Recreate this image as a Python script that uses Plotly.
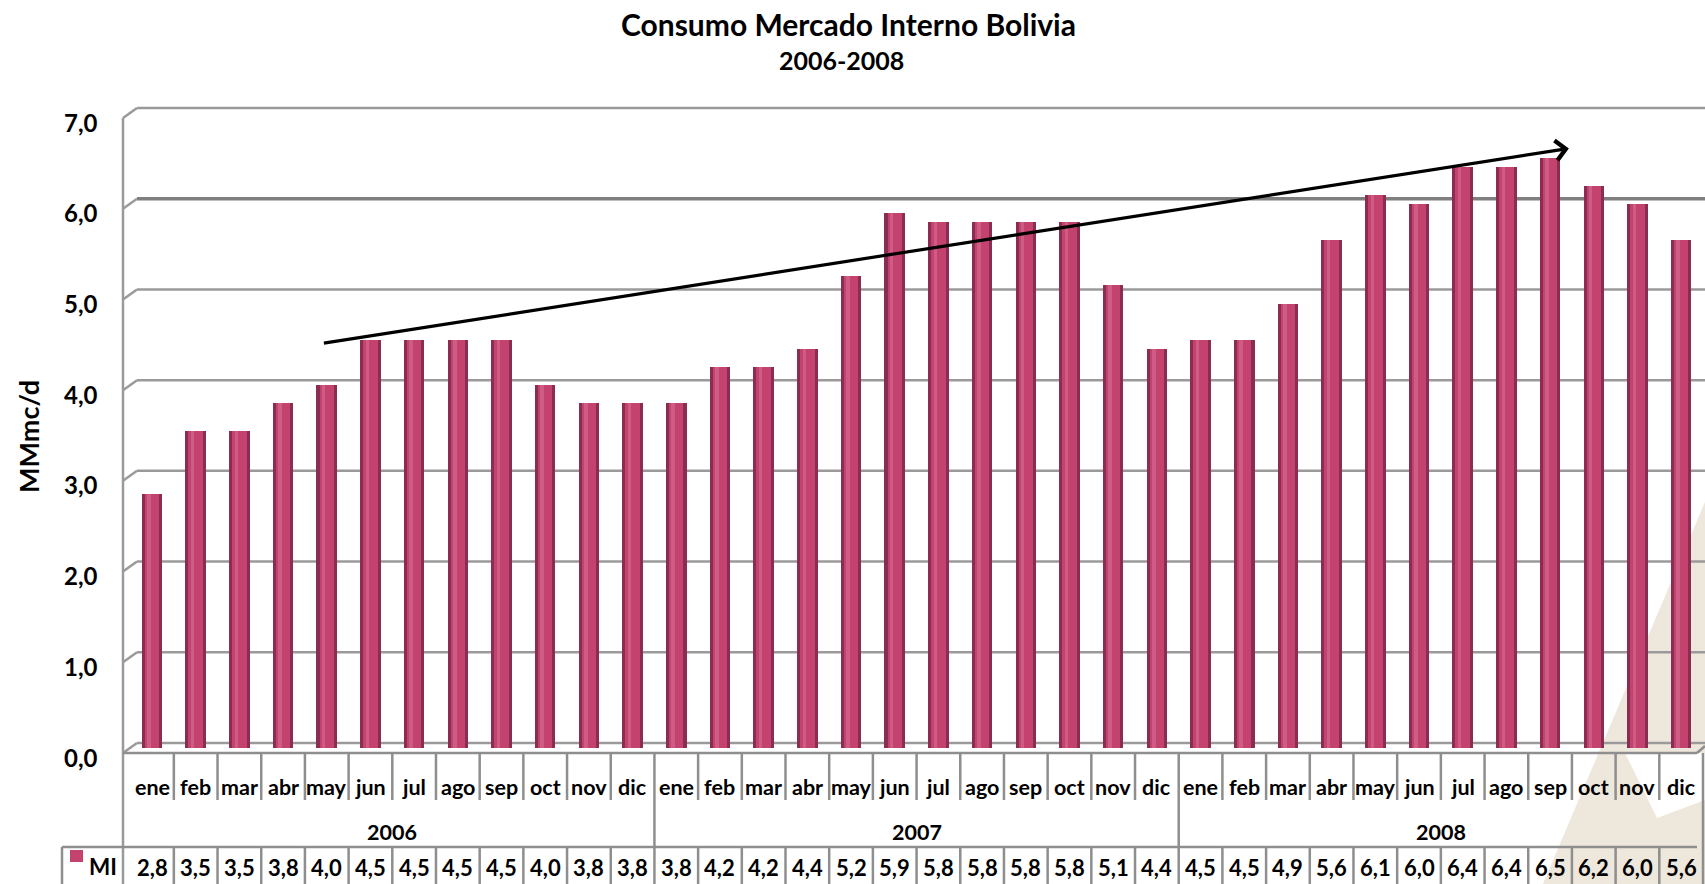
import plotly.graph_objects as go

# ---------------- data ----------------
years = ["2006", "2007", "2008"]
months = ["ene", "feb", "mar", "abr", "may", "jun", "jul", "ago", "sep", "oct", "nov", "dic"]
mi_2006 = [2.8, 3.5, 3.5, 3.8, 4.0, 4.5, 4.5, 4.5, 4.5, 4.0, 3.8, 3.8]
mi_2007 = [3.8, 4.2, 4.2, 4.4, 5.2, 5.9, 5.8, 5.8, 5.8, 5.8, 5.1, 4.4]
mi_2008 = [4.5, 4.5, 4.9, 5.6, 6.1, 6.0, 6.4, 6.4, 6.5, 6.2, 6.0, 5.6]
series_name = "MI"
y_ticks = [0, 1, 2, 3, 4, 5, 6, 7]
y_tick_labels = ["0,0", "1,0", "2,0", "3,0", "4,0", "5,0", "6,0", "7,0"]
title_text = "Consumo Mercado Interno Bolivia"
subtitle_text = "2006-2008"
y_title = "MMmc/d"
# trend arrow (category index, value)
trend_start = (3.9, 4.46)
trend_end = (32.43, 6.61)

cats = [f"{m} {y}" for y in years for m in months]
values = mi_2006 + mi_2007 + mi_2008
labels = [f"{v:.1f}".replace(".", ",") for v in values]

# ---------------- layout geometry ----------------
W, H = 1705, 884
PL, PR, PT, PB = 137, 1705, 113, 748      # plotting area (bars)
BACK_DY = 5                                 # back wall offset (3-D look)
cell = 43.69
r0 = (PL - 152) / cell
r1 = r0 + (PR - PL) / cell
unit = (PB - PT) / 7.0


def px(x):
    return (x - PL) / (PR - PL)


def py(y):
    return (PB - y) / (PB - PT)


def idx_pix(i):
    return PL + (i - r0) * cell


FONT = "Lato"
GRID = "#9a9a9a"
LINE = "#8e8e8e"
BAR_MAIN = "#C3426E"
BAR_EDGE = "#8B2D53"
BAR_HI = "#CF5C85"

fig = go.Figure()
fig.add_trace(go.Bar(x=cats, y=values, width=0.47, marker=dict(color=BAR_EDGE, line_width=0),
                     name=series_name, showlegend=False, hoverinfo="skip"))
fig.add_trace(go.Bar(x=cats, y=values, width=0.33, marker=dict(color=BAR_MAIN, line_width=0),
                     name=series_name, showlegend=False))
fig.add_trace(go.Bar(x=cats, y=values, width=0.08, offset=-0.11, marker=dict(color=BAR_HI, line_width=0),
                     name=series_name, showlegend=False, hoverinfo="skip"))

shapes = []
# watermark
wm = [(1543, 884), (1705, 502), (1705, 884)]
path = "M " + " L ".join(f"{px(a):.5f},{py(b):.5f}" for a, b in wm) + " Z"
shapes.append(dict(type="path", xref="paper", yref="paper", path=path,
                   fillcolor="#EEE7DC", line_width=0, layer="below"))
wm2 = [(1657, 818), (1705, 800), (1705, 753), (1625, 753)]
path2 = "M " + " L ".join(f"{px(a):.5f},{py(b):.5f}" for a, b in wm2) + " Z"
shapes.append(dict(type="path", xref="paper", yref="paper", path=path2,
                   fillcolor="white", line_width=0, layer="below"))

# gridlines (back wall) + left wall diagonals
for v in y_ticks:
    col = "#7f7f7f" if v == 6 else GRID
    wdt = 3.5 if v == 6 else 2.5
    gy = PB - BACK_DY - v * unit
    shapes.append(dict(type="line", xref="paper", yref="paper", x0=0, x1=1, y0=py(gy), y1=py(gy),
                       line=dict(color=col, width=wdt), layer="below"))
    shapes.append(dict(type="line", xref="paper", yref="paper", x0=px(123), x1=px(137),
                       y0=py(gy + 10), y1=py(gy), line=dict(color=GRID, width=2.5)))


def pline(x0, y0, x1, y1, color=LINE, w=2.5):
    shapes.append(dict(type="line", xref="paper", yref="paper", x0=px(x0), y0=py(y0),
                       x1=px(x1), y1=py(y1), line=dict(color=color, width=w)))


# left axis line
pline(123, 118, 123, 884, GRID)
# floor front edge and right diagonal
pline(123, 753, 1697, 753)
pline(1697, 753, 1705, 746)
# data row top line
pline(62, 847, 1697, 847)
pline(62, 847, 62, 884)
# legend square
shapes.append(dict(type="rect", xref="paper", yref="paper", x0=px(70), x1=px(83),
                   y0=py(862), y1=py(850), fillcolor=BAR_MAIN, line_width=0))
# cell separators
n = len(cats)
for k in range(1, n + 1):
    xb = idx_pix(k - 0.5)
    if k % 12 == 0:
        pline(xb, 753, xb, 884)
    else:
        pline(xb, 753, xb, 800)
        pline(xb, 847, xb, 884)

ann = []
bold = dict(family=FONT, color="black", weight="bold")
ann.append(dict(text=title_text, xref="paper", yref="paper", x=px(848), y=py(24),
                showarrow=False, font=dict(size=30, **bold), xanchor="center", yanchor="middle"))
ann.append(dict(text=subtitle_text, xref="paper", yref="paper", x=px(841), y=py(60),
                showarrow=False, font=dict(size=25, **bold), xanchor="center", yanchor="middle"))
ann.append(dict(text=y_title, xref="paper", yref="paper", x=px(29), y=py(437), textangle=-90,
                showarrow=False, font=dict(size=27, **bold), xanchor="center", yanchor="middle"))
for v, lab in zip(y_ticks, y_tick_labels):
    ann.append(dict(text=lab, xref="paper", yref="y", x=px(100), y=v, yshift=-9,
                    showarrow=False, font=dict(size=24, **bold), xanchor="right", yanchor="middle"))
for i, c in enumerate(cats):
    ann.append(dict(text=months[i % 12], xref="x", yref="paper", x=c, y=py(787),
                    showarrow=False, font=dict(size=21.5, **bold), xanchor="center", yanchor="middle"))
    ann.append(dict(text=labels[i], xref="x", yref="paper", x=c, y=py(867),
                    showarrow=False, font=dict(size=22, **bold), xanchor="center", yanchor="middle"))
for j, yr in enumerate(years):
    ann.append(dict(text=yr, xref="x", yref="paper", x=j * 12 + 5.5, y=py(832),
                    showarrow=False, font=dict(size=21.5, **bold), xanchor="center", yanchor="middle"))
ann.append(dict(text=series_name, xref="paper", yref="paper", x=px(87), y=py(866),
                showarrow=False, font=dict(size=22.5, **bold), xanchor="left", yanchor="middle"))
# trend arrow
ann.append(dict(text="", x=trend_end[0], y=trend_end[1], xref="x", yref="y",
                ax=trend_start[0], ay=trend_start[1], axref="x", ayref="y",
                showarrow=True, arrowhead=4, arrowsize=1.2, arrowwidth=3.2,
                arrowcolor="black", standoff=0, startstandoff=0))

fig.update_layout(
    width=W, height=H, autosize=False,
    margin=dict(l=PL, r=W - PR, t=PT, b=H - PB, pad=0),
    paper_bgcolor="white", plot_bgcolor="rgba(0,0,0,0)",
    barmode="overlay", bargap=0,
    showlegend=False,
    xaxis=dict(type="category", categoryorder="array", categoryarray=cats,
               range=[r0, r1], showticklabels=False, showgrid=False, zeroline=False,
               showline=False, ticks=""),
    yaxis=dict(range=[0, 7], showticklabels=False, showgrid=False, zeroline=False,
               showline=False, ticks="", tickvals=y_ticks),
    shapes=shapes, annotations=ann,
    font=dict(family=FONT),
)

fig.write_html("out.html", config={"displayModeBar": False},
               post_script="document.body.style.margin='0';document.body.style.overflow='hidden';")
